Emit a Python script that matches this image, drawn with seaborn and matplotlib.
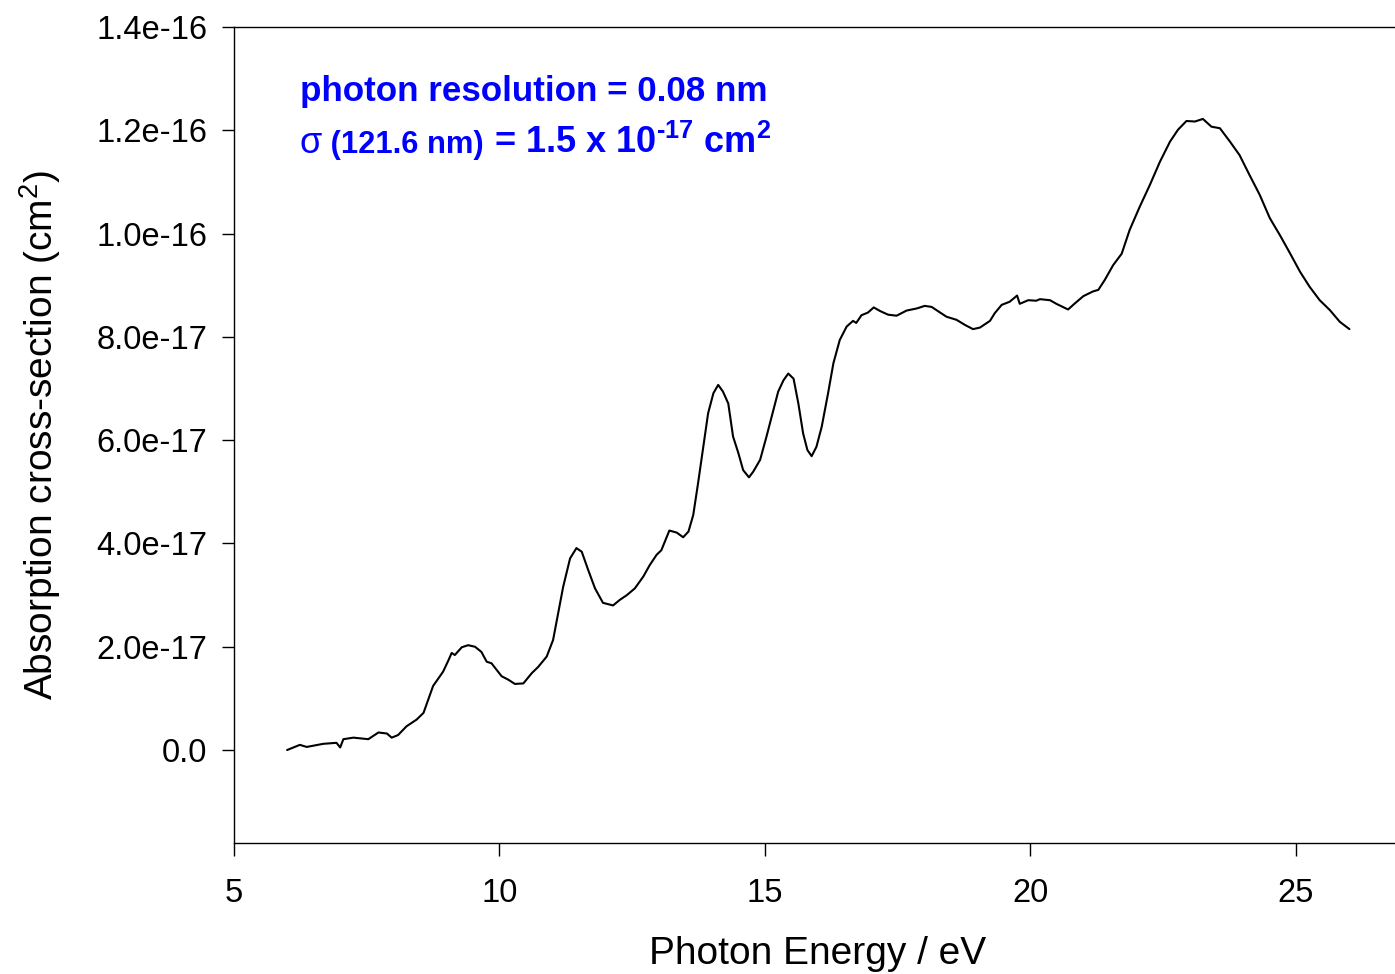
import numpy as np
import matplotlib
matplotlib.use('Agg')
import matplotlib.pyplot as plt
from matplotlib.ticker import FuncFormatter
from matplotlib.offsetbox import TextArea, HPacker, AnchoredOffsetbox
import seaborn as sns

# energia del foton (eV)
energy = [6.00, 6.24, 6.37, 6.68, 6.93, 7.00, 7.06, 7.25, 7.53, 7.72, 7.88, 7.97, 8.09,
          8.25, 8.44, 8.57, 8.75, 8.94, 9.04, 9.10, 9.16, 9.29, 9.41, 9.54, 9.66, 9.76,
          9.85, 10.04, 10.17, 10.29, 10.45, 10.61, 10.73, 10.89, 11.01, 11.20, 11.33,
          11.45, 11.55, 11.67, 11.80, 11.95, 12.14, 12.27, 12.40, 12.55, 12.71, 12.83,
          12.96, 13.05, 13.20, 13.34, 13.46, 13.56, 13.65, 13.74, 13.84, 13.93, 14.03,
          14.12, 14.21, 14.31, 14.40, 14.50, 14.59, 14.70, 14.78, 14.91, 15.03, 15.16,
          15.25, 15.35, 15.44, 15.54, 15.63, 15.72, 15.80, 15.88, 15.97, 16.07, 16.19,
          16.29, 16.41, 16.54, 16.66, 16.72, 16.82, 16.94, 17.05, 17.17, 17.32, 17.48,
          17.67, 17.86, 18.01, 18.14, 18.30, 18.42, 18.61, 18.77, 18.92, 19.05, 19.24,
          19.33, 19.46, 19.61, 19.75, 19.80, 19.96, 20.11, 20.18, 20.37, 20.49, 20.71,
          20.84, 21.00, 21.18, 21.28, 21.40, 21.56, 21.72, 21.87, 22.06, 22.25, 22.44,
          22.63, 22.78, 22.94, 23.10, 23.25, 23.41, 23.57, 23.76, 23.94, 24.13, 24.32,
          24.51, 24.70, 24.89, 25.08, 25.26, 25.45, 25.64, 25.83, 26.01]

# seccion eficaz en unidades de 1e-17 cm^2
sigma_1e17 = [0.00, 0.10, 0.06, 0.12, 0.14, 0.05, 0.21, 0.24, 0.21, 0.34, 0.32, 0.24, 0.29,
              0.46, 0.59, 0.72, 1.24, 1.52, 1.74, 1.88, 1.84, 1.99, 2.03, 2.00, 1.90, 1.71,
              1.68, 1.43, 1.36, 1.28, 1.29, 1.49, 1.61, 1.81, 2.13, 3.16, 3.71,
              3.91, 3.84, 3.49, 3.13, 2.85, 2.80, 2.91, 3.00, 3.13, 3.36, 3.58,
              3.78, 3.87, 4.25, 4.21, 4.12, 4.23, 4.55, 5.16, 5.87, 6.52, 6.91,
              7.07, 6.94, 6.71, 6.07, 5.75, 5.42, 5.28, 5.39, 5.62, 6.07, 6.58,
              6.94, 7.16, 7.29, 7.19, 6.71, 6.13, 5.81, 5.69, 5.87, 6.26, 6.91,
              7.49, 7.94, 8.20, 8.31, 8.27, 8.42, 8.47, 8.57, 8.50, 8.43, 8.41,
              8.51, 8.55, 8.60, 8.58, 8.47, 8.39, 8.33, 8.23, 8.15, 8.18, 8.31,
              8.46, 8.62, 8.68, 8.80, 8.64, 8.71, 8.70, 8.73, 8.71, 8.64, 8.53,
              8.65, 8.79, 8.88, 8.91, 9.10, 9.39, 9.61, 10.07, 10.52, 10.94, 11.39,
              11.78, 12.01, 12.18, 12.17, 12.22, 12.07, 12.04, 11.78, 11.52, 11.13, 10.75,
              10.30, 9.97, 9.62, 9.26, 8.97, 8.71, 8.52, 8.29, 8.15]

x_ticks = [5, 10, 15, 20, 25]
y_ticks = [0.0, 2e-17, 4e-17, 6e-17, 8e-17, 1e-16, 1.2e-16, 1.4e-16]

sns.set_style('ticks')
plt.rcParams['font.family'] = ['Liberation Sans', 'DejaVu Sans']
plt.rcParams['mathtext.fontset'] = 'custom'
plt.rcParams['mathtext.rm'] = 'Liberation Sans'
plt.rcParams['mathtext.bf'] = 'Liberation Sans:bold'
plt.rcParams['mathtext.default'] = 'bf'

fig = plt.figure(figsize=(13.95, 9.74), dpi=100)
ax = fig.add_axes([234 / 1395, 1 - 843 / 974, (1402 - 234) / 1395, (843 - 27) / 974])

sigma = np.array(sigma_1e17) * 1e-17
sns.lineplot(x=energy, y=sigma, ax=ax, color='black', linewidth=1.5)

ax.set_xlim(5, 27)
ax.set_ylim(-1.8e-17, 1.4e-16)
ax.set_xticks(x_ticks)
ax.set_yticks(y_ticks)
ax.yaxis.set_major_formatter(FuncFormatter(lambda v, p: '0.0' if abs(v) < 1e-30 else f'{v:.1e}'))

ax.spines['right'].set_visible(False)
for s in ['left', 'bottom', 'top']:
    ax.spines[s].set_linewidth(1.0)
    ax.spines[s].set_color('black')
ax.tick_params(axis='y', direction='out', length=9, width=1, labelsize=23.5, pad=10, colors='black')
ax.tick_params(axis='x', direction='out', length=9, width=1, labelsize=23.5, pad=16, colors='black')

ax.set_xlabel('Photon Energy / eV', fontsize=28, labelpad=20, color='black')
ax.set_ylabel('Absorption cross-section (cm$^{\\mathrm{2}}$)', fontsize=28, labelpad=24, color='black')

# anotaciones en azul
azul = '#0000FF'
ax.text(0.0565, 0.909, 'photon resolution = 0.08 nm', transform=ax.transAxes,
        fontsize=25.2, fontweight='bold', color=azul, va='baseline', ha='left')

piezas = [TextArea('σ', textprops=dict(fontsize=26, color=azul)),
          TextArea(' (121.6 nm)', textprops=dict(fontsize=22.2, fontweight='bold', color=azul)),
          TextArea(' = 1.5 x 10$^{\u201017}$ cm$^{2}$', textprops=dict(fontsize=26, fontweight='bold', color=azul))]
fila = HPacker(children=piezas, align='baseline', pad=0, sep=0)
caja = AnchoredOffsetbox(loc='lower left', child=fila, pad=0, borderpad=0, frameon=False,
                         bbox_to_anchor=(0.0565, 0.836), bbox_transform=ax.transAxes)
ax.add_artist(caja)

plt.savefig('out.png', dpi=100)
